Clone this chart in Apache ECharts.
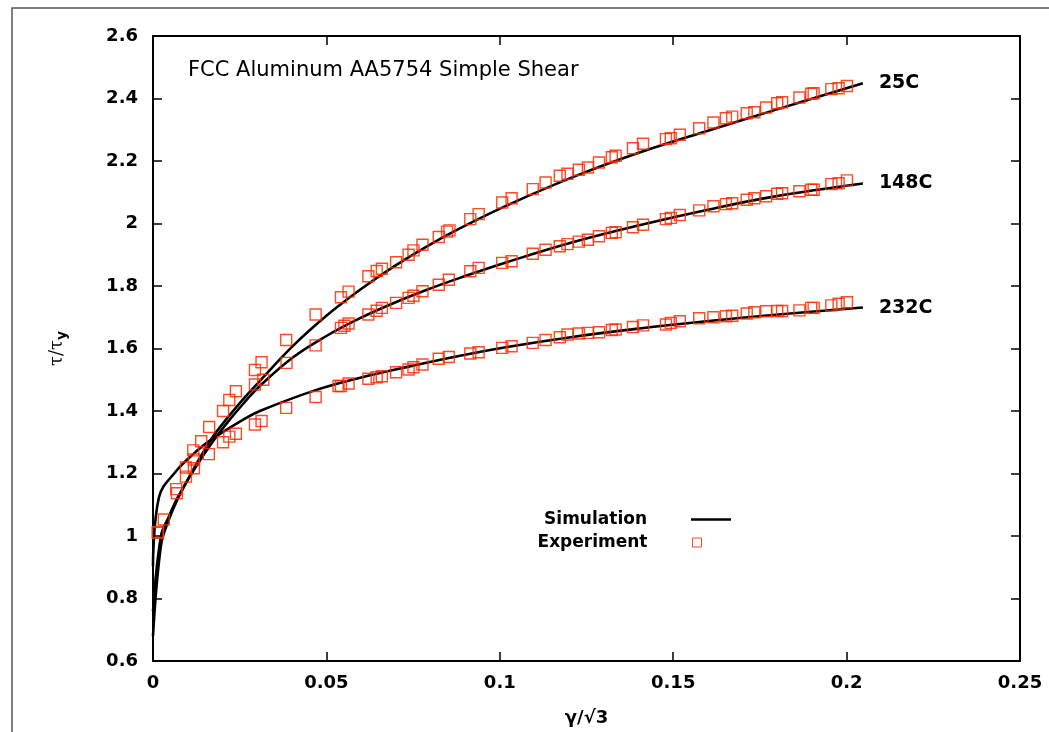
<!DOCTYPE html>
<html>
<head>
<meta charset="utf-8">
<script src="https://cdn.jsdelivr.net/npm/echarts@6/dist/echarts.min.js"></script>
<style>
  html, body { margin: 0; padding: 0; background: #fff; }
  #main { width: 1049px; height: 732px; }
</style>
</head>
<body>
<div id="main"></div>
<script>
// temperatures (labels at the end of each simulation curve)
const temps = ['25C', '148C', '232C'];

// simulation curves [gamma/sqrt3, tau/tau_y]
const sim25 = [[0,0.68],[0.0023,0.97],[0.0045,1.05],[0.0072,1.12],[0.012,1.22],[0.0168,1.31],[0.0216,1.38],[0.0264,1.443],[0.0303,1.49],[0.0405,1.61],[0.05,1.705],[0.0597,1.788],[0.0694,1.862],[0.079,1.927],[0.0886,1.985],[0.1021,2.058],[0.1214,2.15],[0.1405,2.228],[0.16,2.297],[0.179,2.362],[0.2047,2.449]];
const sim148 = [[0,0.76],[0.0023,1.0],[0.0045,1.06],[0.0072,1.125],[0.012,1.215],[0.0168,1.295],[0.0216,1.365],[0.0264,1.428],[0.0308,1.48],[0.0404,1.572],[0.05,1.64],[0.0597,1.697],[0.0693,1.745],[0.079,1.788],[0.0885,1.826],[0.102,1.876],[0.121,1.94],[0.1405,1.995],[0.16,2.044],[0.179,2.086],[0.2047,2.128]];
const sim232 = [[0,0.904],[0.0017,1.123],[0.0067,1.208],[0.0116,1.262],[0.0164,1.305],[0.026,1.372],[0.0308,1.40],[0.0467,1.466],[0.0592,1.505],[0.0737,1.542],[0.0882,1.576],[0.1017,1.604],[0.1209,1.637],[0.1402,1.664],[0.1595,1.687],[0.1787,1.707],[0.2047,1.731]];

// experiment points
const exp25 = [[0.0014,1.013],[0.0067,1.15],[0.0095,1.219],[0.0116,1.274],[0.0139,1.303],[0.0162,1.349],[0.0202,1.40],[0.022,1.435],[0.0239,1.463],[0.0294,1.531],[0.0313,1.556],[0.0384,1.627],[0.0469,1.709],[0.0542,1.764],[0.0564,1.782],[0.0621,1.831],[0.0645,1.848],[0.066,1.855],[0.0701,1.876],[0.0737,1.90],[0.0751,1.914],[0.0777,1.932],[0.0824,1.957],[0.0848,1.974],[0.0855,1.978],[0.0915,2.014],[0.0939,2.03],[0.1007,2.067],[0.1034,2.081],[0.1095,2.11],[0.1132,2.131],[0.1173,2.153],[0.1195,2.159],[0.1228,2.172],[0.1254,2.179],[0.1286,2.195],[0.1323,2.212],[0.1334,2.217],[0.1384,2.241],[0.1413,2.255],[0.1479,2.27],[0.1493,2.273],[0.1519,2.284],[0.1575,2.305],[0.1616,2.323],[0.1652,2.337],[0.167,2.342],[0.1712,2.353],[0.1734,2.356],[0.1768,2.371],[0.18,2.385],[0.1814,2.388],[0.1864,2.403],[0.1898,2.415],[0.1905,2.417],[0.1956,2.43],[0.1977,2.433],[0.2001,2.44]];
const exp148 = [[0.0031,1.053],[0.0069,1.137],[0.0095,1.19],[0.0118,1.245],[0.0294,1.485],[0.0318,1.50],[0.0385,1.554],[0.0469,1.61],[0.0542,1.666],[0.0552,1.673],[0.0564,1.68],[0.0621,1.709],[0.0645,1.721],[0.066,1.73],[0.0701,1.746],[0.0737,1.762],[0.0751,1.769],[0.0777,1.783],[0.0824,1.804],[0.0853,1.82],[0.0915,1.847],[0.0939,1.858],[0.1007,1.874],[0.1034,1.879],[0.1095,1.903],[0.1132,1.916],[0.1173,1.927],[0.1195,1.934],[0.1228,1.942],[0.1254,1.948],[0.1286,1.959],[0.1323,1.97],[0.1334,1.972],[0.1384,1.988],[0.1413,1.996],[0.1479,2.014],[0.1493,2.018],[0.1519,2.027],[0.1575,2.042],[0.1616,2.055],[0.1652,2.062],[0.167,2.065],[0.1712,2.076],[0.1734,2.081],[0.1768,2.087],[0.18,2.095],[0.1814,2.097],[0.1864,2.103],[0.1898,2.108],[0.1905,2.108],[0.1956,2.126],[0.1977,2.129],[0.2001,2.138]];
const exp232 = [[0.0014,1.01],[0.0118,1.217],[0.0161,1.262],[0.0202,1.30],[0.022,1.318],[0.0239,1.327],[0.0294,1.357],[0.0313,1.368],[0.0384,1.41],[0.0469,1.445],[0.0535,1.48],[0.0542,1.48],[0.0564,1.488],[0.0621,1.503],[0.0645,1.508],[0.066,1.511],[0.0701,1.524],[0.0737,1.533],[0.0751,1.54],[0.0777,1.549],[0.0824,1.567],[0.0853,1.573],[0.0915,1.584],[0.0939,1.588],[0.1007,1.602],[0.1034,1.607],[0.1095,1.618],[0.1132,1.627],[0.1173,1.636],[0.1195,1.645],[0.1228,1.648],[0.1254,1.65],[0.1286,1.652],[0.1323,1.659],[0.1334,1.661],[0.1384,1.669],[0.1413,1.674],[0.1479,1.677],[0.1493,1.682],[0.1519,1.687],[0.1575,1.697],[0.1616,1.70],[0.1652,1.703],[0.167,1.705],[0.1712,1.712],[0.1734,1.716],[0.1768,1.719],[0.18,1.72],[0.1814,1.72],[0.1864,1.722],[0.1898,1.73],[0.1905,1.73],[0.1956,1.738],[0.1977,1.743],[0.2001,1.748]];

const simData = [sim25, sim148, sim232];
const expData = [exp25, exp148, exp232];

const FONT = '"DejaVu Sans", Verdana, sans-serif';
const RED = '#ff2a00';

var chart = echarts.init(document.getElementById('main'));

function xAxisOf(pos) {
  return {
    type: 'value',
    position: pos,
    min: 0,
    max: 0.25,
    interval: 0.05,
    splitLine: { show: false },
    axisLine: { show: true, onZero: false, lineStyle: { color: '#000', width: 2 } },
    axisTick: { show: true, inside: true, length: 9, lineStyle: { color: '#000', width: 1.5 } },
    axisLabel: {
      show: pos === 'bottom', margin: 13, color: '#000',
      fontFamily: FONT, fontSize: 18, fontWeight: 'bold'
    }
  };
}
function yAxisOf(pos) {
  return {
    type: 'value',
    position: pos,
    min: 0.6,
    max: 2.6,
    interval: 0.2,
    splitLine: { show: false },
    axisLine: { show: true, onZero: false, lineStyle: { color: '#000', width: 2 } },
    axisTick: { show: true, inside: true, length: 9, lineStyle: { color: '#000', width: 1.5 } },
    axisLabel: {
      show: pos === 'left', margin: 15, color: '#000',
      fontFamily: FONT, fontSize: 18, fontWeight: 'bold',
      formatter: function (v) { return String(Math.round(v * 10) / 10); }
    }
  };
}

var xBottom = xAxisOf('bottom');
xBottom.name = 'γ/√3';
xBottom.nameLocation = 'middle';
xBottom.nameGap = 48;
xBottom.nameTextStyle = { color: '#000', fontFamily: FONT, fontSize: 18, fontWeight: 'bold' };

var yLeft = yAxisOf('left');
yLeft.name = '{a|τ/τ}{b|y}';
yLeft.nameLocation = 'middle';
yLeft.nameRotate = 90;
yLeft.nameGap = 84;
yLeft.nameTextStyle = {
  color: '#000',
  rich: {
    a: { fontFamily: '"DejaVu Serif", serif', fontSize: 18, color: '#000' },
    b: { fontFamily: FONT, fontSize: 14, fontWeight: 'bold', color: '#000', padding: [10, 0, 0, 0] }
  }
};

var series = [];
simData.forEach(function (d, i) {
  series.push({
    name: 'Simulation',
    type: 'line',
    xAxisIndex: 0, yAxisIndex: 0,
    data: d,
    symbol: 'none',
    smooth: 0.4,
    z: 3,
    lineStyle: { color: '#000', width: 2.6 },
    itemStyle: { color: '#000' },
    endLabel: {
      show: true, formatter: temps[i], distance: 16, color: '#000',
      fontFamily: FONT, fontSize: 19, fontWeight: 'bold'
    }
  });
});
expData.forEach(function (d) {
  series.push({
    name: 'Experiment',
    type: 'scatter',
    xAxisIndex: 0, yAxisIndex: 0,
    data: d,
    symbol: 'rect',
    symbolSize: 11,
    z: 4,
    itemStyle: { color: 'rgba(255,255,255,0)', borderColor: RED, borderWidth: 1.4, opacity: 0.85 }
  });
});

var option = {
  animation: false,
  backgroundColor: '#fff',
  grid: { left: 153, right: 29, top: 36, bottom: 70, containLabel: false },
  xAxis: [xBottom, xAxisOf('top')],
  yAxis: [yLeft, yAxisOf('right')],
  legend: [
    {
      data: [{ name: 'Simulation', icon: 'rect', itemStyle: { color: '#000' } }],
      right: 313, top: 506,
      orient: 'vertical', align: 'right',
      itemWidth: 40, itemHeight: 2.6,
      textStyle: { color: '#000', fontFamily: FONT, fontSize: 17, fontWeight: 'bold', padding: [0, 39, 0, 0] }
    },
    {
      data: [{ name: 'Experiment', icon: 'rect', itemStyle: { color: '#fff', borderColor: RED, borderWidth: 1 } }],
      right: 342, top: 529,
      orient: 'vertical', align: 'right',
      itemWidth: 9, itemHeight: 9,
      textStyle: { color: '#000', fontFamily: FONT, fontSize: 17, fontWeight: 'bold', padding: [0, 40, 0, 0] }
    }
  ],
  graphic: [
    {
      type: 'rect', silent: true,
      shape: { x: 12, y: 8, width: 1100, height: 800 },
      style: { fill: 'none', stroke: '#555', lineWidth: 1.5 }
    },
    {
      type: 'text', left: 188, top: 60,
      style: { text: 'FCC Aluminum AA5754 Simple Shear', fill: '#000', font: '21px "DejaVu Sans", Verdana, sans-serif' }
    }
  ],
  series: series
};

chart.setOption(option);
</script>
</body>
</html>
